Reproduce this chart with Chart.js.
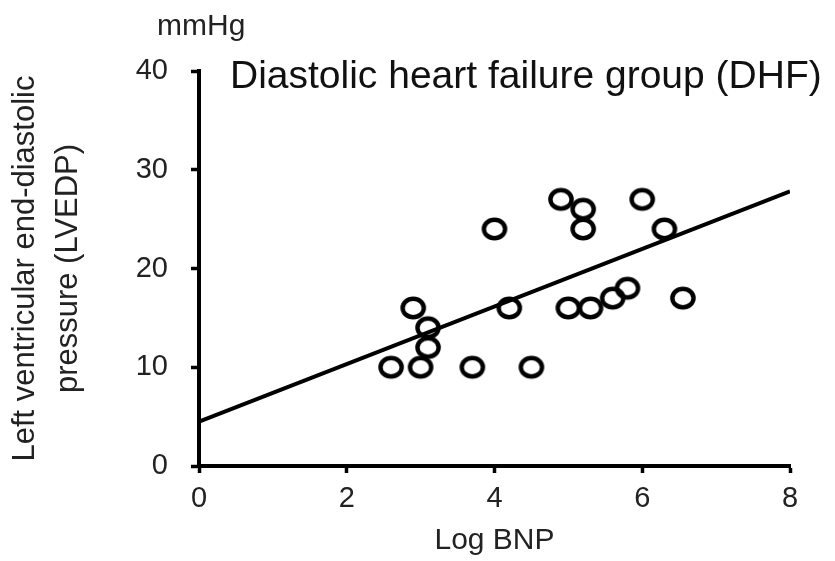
<!DOCTYPE html>
<html>
<head>
<meta charset="utf-8">
<script src="https://cdn.jsdelivr.net/npm/chart.js@4/dist/chart.umd.min.js"></script>
<style>
  html, body { margin: 0; padding: 0; background: #fff; }
  #wrap { position: relative; width: 835px; height: 561px; }
</style>
</head>
<body>
<div id="wrap"><canvas id="c" width="835" height="561"></canvas></div>
<script>
// ---- data ----
const logBNP = [4.0, 4.9, 5.2, 5.2, 6.0, 6.3, 2.9, 3.1, 3.1, 2.6, 3.0, 3.7, 4.5, 4.2, 5.0, 5.3, 5.6, 5.8, 6.55];
const lvedp  = [24, 27, 26, 24, 27, 24, 16, 14, 12, 10, 10, 10, 10, 16, 16, 16, 17, 18, 17];
const fitX = [0, 8];
const fitY = [4.5, 27.8];
const xTickValues = [0, 2, 4, 6, 8];
const yTickValues = [0, 10, 20, 30, 40];
const chartTitle = 'Diastolic heart failure group (DHF)';
const unitLabel = 'mmHg';
const xTitle = 'Log BNP';
const yTitle = ['Left ventricular end-diastolic', 'pressure (LVEDP)'];

const FONT = '"Liberation Sans", Arial, Helvetica, sans-serif';

function ellipseMarker() {
  const c = document.createElement('canvas');
  c.width = 30; c.height = 28;
  const g = c.getContext('2d');
  g.lineWidth = 4.4;
  g.strokeStyle = '#000';
  g.beginPath();
  g.ellipse(15, 14, 10.6, 9.2, 0, 0, 2 * Math.PI);
  g.stroke();
  return c;
}

const scatterData = logBNP.map((x, i) => ({ x: x, y: lvedp[i] }));
const fitData = fitX.map((x, i) => ({ x: x, y: fitY[i] }));

const textPlugin = {
  id: 'extraText',
  afterDraw(chart) {
    const ctx = chart.ctx;
    ctx.save();
    ctx.fillStyle = '#111';
    ctx.textAlign = 'left';
    ctx.textBaseline = 'alphabetic';
    ctx.font = '39px ' + FONT;
    ctx.fillText(chartTitle, 230, 88);
    ctx.fillStyle = '#222';
    ctx.font = '30px ' + FONT;
    ctx.fillText(unitLabel, 157, 35);
    ctx.restore();
  }
};

new Chart(document.getElementById('c'), {
  type: 'scatter',
  data: {
    datasets: [
      {
        type: 'line',
        data: fitData,
        borderColor: '#000',
        borderWidth: 4,
        pointRadius: 0,
        fill: false,
        tension: 0,
        order: 2
      },
      {
        data: scatterData,
        pointStyle: ellipseMarker(),
        pointRadius: 11,
        order: 1
      }
    ]
  },
  options: {
    responsive: false,
    animation: false,
    events: [],
    layout: { padding: { top: 71, right: 45, left: 0, bottom: 0 } },
    plugins: { legend: { display: false }, tooltip: { enabled: false }, title: { display: false } },
    scales: {
      x: {
        type: 'linear',
        min: 0, max: 8,
        afterBuildTicks: (s) => { s.ticks = xTickValues.map(v => ({ value: v })); },
        afterFit: (s) => { s.height = 95; },
        border: { display: true, color: '#000', width: 4 },
        grid: { drawOnChartArea: false, drawTicks: true, tickLength: 7, tickWidth: 3.5, tickColor: '#000' },
        ticks: { color: '#222', font: { family: FONT, size: 29 }, padding: 9, maxRotation: 0 },
        title: { display: true, text: xTitle, color: '#222', font: { family: FONT, size: 30 }, padding: { top: 0, bottom: 2 } }
      },
      y: {
        type: 'linear',
        min: 0, max: 40,
        afterBuildTicks: (s) => { s.ticks = yTickValues.map(v => ({ value: v })); },
        afterFit: (s) => { s.width = 199; },
        border: { display: true, color: '#000', width: 4 },
        grid: { drawOnChartArea: false, drawTicks: true, tickLength: 8, tickWidth: 3.5, tickColor: '#000' },
        ticks: { color: '#222', font: { family: FONT, size: 29 }, padding: 23 },
        title: { display: true, text: yTitle, color: '#222', font: { family: FONT, size: 31, lineHeight: 1.38 }, padding: { top: 4, bottom: 0 } }
      }
    }
  },
  plugins: [textPlugin]
});
</script>
</body>
</html>
